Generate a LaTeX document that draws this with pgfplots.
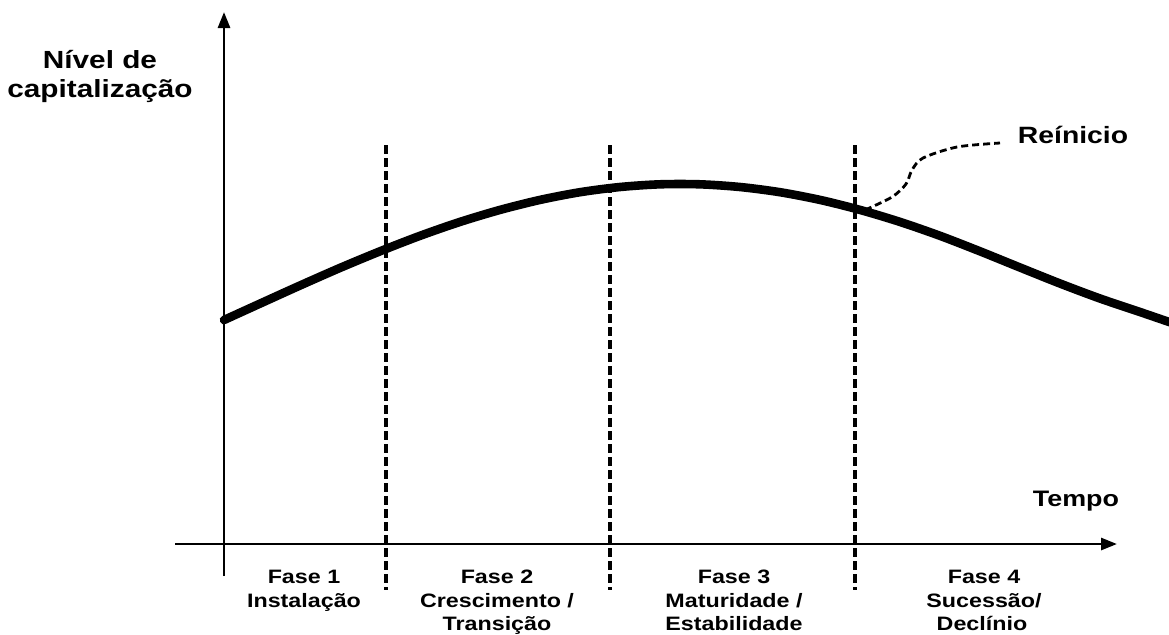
\documentclass[border=0pt]{standalone}
\usepackage{fontspec}
\setmainfont{Liberation Sans}
\newfontfamily\wide[FakeStretch=1.2]{Liberation Sans}
\usepackage{pgfplots}
\pgfplotsset{compat=1.18}
\usetikzlibrary{arrows.meta}
\begin{document}
\begin{tikzpicture}
\begin{axis}[scale only axis, width=584.5pt, height=317pt,
  xmin=0, xmax=1169, ymin=0, ymax=634, y dir=reverse, hide axis]
% axes
\draw[line width=1.4pt, -{Triangle[length=8pt,width=6pt]}] (axis cs:224,576) -- (axis cs:224,12);
\draw[line width=1.4pt, -{Triangle[length=8pt,width=6pt]}] (axis cs:175,544) -- (axis cs:1117,544);
% phase separators
\addplot[line width=1.8pt, dash pattern=on 4.5pt off 2pt] coordinates {(386,145) (386,590)};
\addplot[line width=1.8pt, dash pattern=on 4.5pt off 2pt] coordinates {(610,145) (610,590)};
\addplot[line width=1.8pt, dash pattern=on 4.5pt off 2pt] coordinates {(855,145) (855,590)};
% main curve
\addplot[line width=4.3pt, smooth, line cap=round] coordinates {
(224,320) (260,303.6) (300,285.5) (340,267.9) (380,251.3) (420,235.8) (460,221.9)
(500,209.9) (540,199.9) (580,192.2) (620,187.0) (660,184.3) (700,184.3) (740,187.0)
(780,192.2) (820,199.9) (860,209.9) (900,221.9) (940,235.8) (980,251.3) (1020,267.5)
(1060,283.5) (1100,298.5) (1140,312) (1175,324)};
% reinicio dashed
\addplot[line width=1.4pt, smooth, dash pattern=on 3.5pt off 2pt] coordinates {
(865,210) (892,197) (906,184) (912,170) (923,158) (957,147) (1000,143)};
% texts
\node[font=\wide\bfseries\fontsize{12.4}{14}\selectfont, anchor=base, inner sep=0pt] at (axis cs:100,68) {Nível de};
\node[font=\wide\bfseries\fontsize{12.4}{14}\selectfont, anchor=base, inner sep=0pt] at (axis cs:100,97) {capitalização};
\node[font=\wide\bfseries\fontsize{11.8}{14}\selectfont, anchor=base, inner sep=0pt] at (axis cs:1073,143) {Reínicio};
\node[font=\wide\bfseries\fontsize{11.2}{14}\selectfont, anchor=base, inner sep=0pt] at (axis cs:1076,506) {Tempo};
\node[font=\wide\bfseries\fontsize{9.7}{12}\selectfont, anchor=base, inner sep=0pt] at (axis cs:304,583) {Fase 1};
\node[font=\wide\bfseries\fontsize{9.7}{12}\selectfont, anchor=base, inner sep=0pt] at (axis cs:304,607) {Instalação};
\node[font=\wide\bfseries\fontsize{9.7}{12}\selectfont, anchor=base, inner sep=0pt] at (axis cs:497,583) {Fase 2};
\node[font=\wide\bfseries\fontsize{9.7}{12}\selectfont, anchor=base, inner sep=0pt] at (axis cs:497,607) {Crescimento /};
\node[font=\wide\bfseries\fontsize{9.7}{12}\selectfont, anchor=base, inner sep=0pt] at (axis cs:497,630) {Transição};
\node[font=\wide\bfseries\fontsize{9.7}{12}\selectfont, anchor=base, inner sep=0pt] at (axis cs:734,583) {Fase 3};
\node[font=\wide\bfseries\fontsize{9.7}{12}\selectfont, anchor=base, inner sep=0pt] at (axis cs:734,607) {Maturidade /};
\node[font=\wide\bfseries\fontsize{9.7}{12}\selectfont, anchor=base, inner sep=0pt] at (axis cs:734,630) {Estabilidade};
\node[font=\wide\bfseries\fontsize{9.7}{12}\selectfont, anchor=base, inner sep=0pt] at (axis cs:984,583) {Fase 4};
\node[font=\wide\bfseries\fontsize{9.7}{12}\selectfont, anchor=base, inner sep=0pt] at (axis cs:984,607) {Sucessão/};
\node[font=\wide\bfseries\fontsize{9.7}{12}\selectfont, anchor=base, inner sep=0pt] at (axis cs:982,630) {Declínio};
\end{axis}
\pgfresetboundingbox
\path (current axis.south west) rectangle (current axis.north east);
\end{tikzpicture}
\end{document}
